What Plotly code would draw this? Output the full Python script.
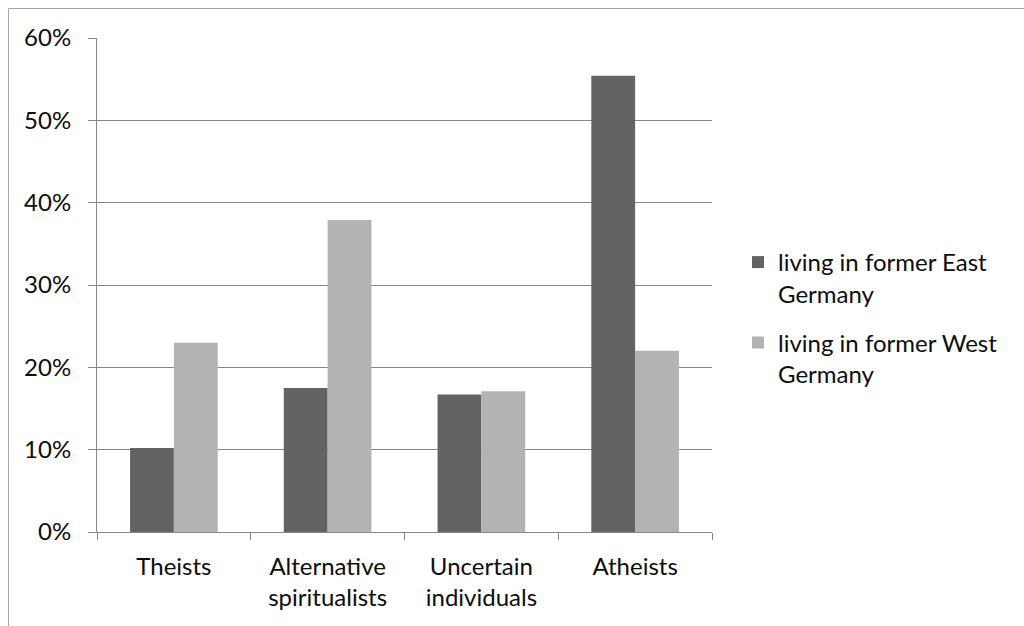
import plotly.graph_objects as go

# Survey shares by world-view group, split by region of residence
categories = ["Theists", "Alternative<br>spiritualists", "Uncertain<br>individuals", "Atheists"]
east_germany = [10.2, 17.5, 16.7, 55.4]
west_germany = [23.0, 37.9, 17.1, 22.0]
series_names = ["living in former East<br>Germany", "living in former West<br>Germany"]
y_ticks = [0, 10, 20, 30, 40, 50, 60]
y_tick_labels = [f"{v}%" for v in y_ticks]

W, H = 1024, 626
L, R, T, B = 97, 312, 38, 94
GRID = "#878787"
FONT = dict(family="Lato, 'Open Sans', sans-serif", size=24, color="#0d0d0d")

fig = go.Figure()
fig.add_trace(go.Bar(x=categories, y=east_germany, name=series_names[0],
                     legendgroup="east",
                     marker=dict(color="#636363", line=dict(width=0))))
fig.add_trace(go.Bar(x=categories, y=west_germany, name=series_names[1],
                     legendgroup="west",
                     marker=dict(color="#b3b3b3", line=dict(width=0))))

pw, ph = W - L - R, H - T - B
def px_x(p):
    return (p - L) / pw
def px_y(p):
    return (H - B - p) / ph

# outer chart frame (left and top edges visible)
frame = dict(color="#a6a6a6", width=1)
fig.add_shape(type="line", xref="paper", yref="paper",
              x0=px_x(8.5), x1=px_x(1030), y0=px_y(8.5), y1=px_y(8.5), line=frame)
fig.add_shape(type="line", xref="paper", yref="paper",
              x0=px_x(8.5), x1=px_x(8.5), y0=px_y(8.5), y1=px_y(640), line=frame)

fig.update_layout(
    width=W, height=H,
    margin=dict(l=L, r=R, t=T, b=B, pad=0),
    paper_bgcolor="white", plot_bgcolor="white",
    barmode="group", bargap=0.43, bargroupgap=0,
    font=FONT,
    showlegend=True,
    legend=dict(x=px_x(738), xanchor="left", y=px_y(240), yanchor="top",
                font=FONT, tracegroupgap=15, itemclick=False, valign="top",
                bgcolor="rgba(0,0,0,0)"),
    xaxis=dict(showgrid=False, showline=True, linecolor=GRID, linewidth=1,
               ticks="outside", tickson="boundaries", ticklen=7, tickcolor=GRID,
               tickfont=FONT, ticklabelstandoff=13),
    yaxis=dict(range=[0, 60], tickvals=y_ticks, ticktext=y_tick_labels,
               showgrid=True, gridcolor=GRID, gridwidth=1, zeroline=False,
               showline=True, linecolor=GRID, linewidth=1,
               ticks="outside", ticklen=8, tickcolor=GRID,
               tickfont=FONT, ticklabelstandoff=12),
)

fig.write_html("out.html")
